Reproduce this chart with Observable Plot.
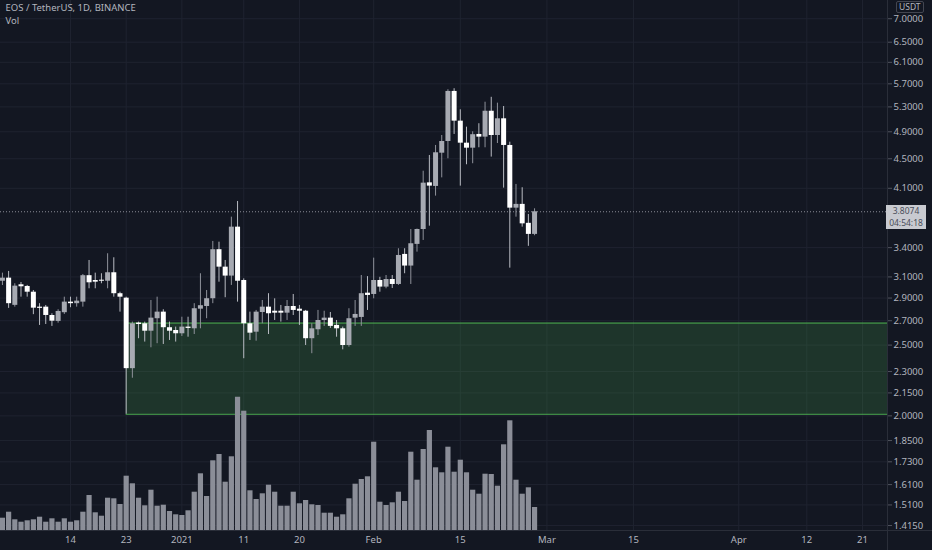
<!DOCTYPE html>
<html>
<head>
<meta charset="utf-8">
<script src="https://cdn.jsdelivr.net/npm/d3@7"></script>
<script src="https://cdn.jsdelivr.net/npm/@observablehq/plot@0.6"></script>
<style>
  body { margin: 0; background: #131722; }
  #chart { position: relative; width: 932px; height: 550px; overflow: hidden; font-family: "Noto Sans", sans-serif; }
  #chart svg { position: absolute; left: 0; top: 0; }
  .sep-v { position: absolute; left: 887px; top: 0; width: 1px; height: 550px; background: #2a2e39; }
  .sep-h { position: absolute; left: 0; top: 530px; width: 932px; height: 1px; background: #2a2e39; }
  .last { position: absolute; left: 886px; width: 40px; height: 24px; background: #c8cad0; color: #4a4e5a;
          font-size: 8.5px; box-sizing: border-box; text-align: center; }
  .last div { height: 12px; line-height: 12px; }
  .usdt { position: absolute; left: 896px; top: 1px; padding: 0 2px; border: 1px solid #434651; border-radius: 2px;
          background: #131722; color: #b2b5be; font-size: 8.5px; line-height: 10px; }
</style>
</head>
<body>
<div id="chart"></div>
<script>
// daily candles, 3 Dec 2020 .. 27 Feb 2021
const firstDay = new Date(Date.UTC(2020, 11, 3));
const lastDay = new Date(Date.UTC(2021, 1, 27));

const opens = [
  3.058, 3.088, 2.834, 3.024, 3.008, 2.954, 2.818, 2.818, 2.745, 2.694, 2.769, 2.863, 2.849, 2.863, 3.112,
  3.065, 3.068, 3.058, 3.141, 2.940, 2.899, 2.321, 2.680, 2.674, 2.612, 2.717, 2.774, 2.641, 2.618,
  2.591, 2.646, 2.632, 2.800, 2.824, 2.894, 3.378, 3.197, 3.108, 3.627, 3.065, 2.674, 2.604, 2.771, 2.818,
  2.782, 2.782, 2.765, 2.824, 2.800, 2.782, 2.551, 2.624, 2.702, 2.722, 2.660, 2.632, 2.497, 2.722, 2.728, 2.945,
  2.933, 3.065, 3.002, 3.075, 3.027, 3.328, 3.208, 3.435, 3.600, 4.171, 4.124, 4.580, 4.752, 5.565,
  5.067, 4.727, 4.653, 4.859, 4.818, 5.228, 4.843, 5.105, 4.693, 3.851, 3.897, 3.671, 3.545
];
const highs = [
  3.137, 3.154, 3.034, 3.046, 3.018, 2.970, 2.849, 2.833, 2.760, 2.795, 2.908, 2.908, 2.908, 3.124, 3.265,
  3.137, 3.131, 3.335, 3.293, 2.954, 2.908, 2.688, 2.688, 2.688, 2.878, 2.908, 2.795, 2.688, 2.646,
  2.730, 2.730, 2.849, 3.131, 2.970, 3.467, 3.459, 3.265, 3.743, 3.933, 3.081, 2.774, 2.789, 2.878, 2.940,
  2.893, 2.833, 2.878, 2.933, 2.833, 2.789, 2.674, 2.789, 2.782, 2.771, 2.702, 2.646, 2.804, 2.878, 3.114, 3.103,
  3.289, 3.096, 3.114, 3.114, 3.388, 3.388, 3.600, 3.605, 4.327, 4.547, 4.693, 4.843, 5.595, 5.613,
  5.252, 4.972, 4.900, 5.026, 5.379, 5.463, 5.363, 5.307, 4.742, 4.150, 4.107, 3.775, 3.843
];
const lows = [
  3.017, 2.807, 2.818, 2.908, 2.908, 2.752, 2.660, 2.668, 2.652, 2.679, 2.754, 2.813, 2.818, 2.818, 2.986,
  2.986, 3.034, 2.986, 2.908, 2.774, 2.010, 2.252, 2.551, 2.524, 2.479, 2.511, 2.505, 2.537, 2.524,
  2.569, 2.563, 2.585, 2.632, 2.717, 2.849, 3.049, 2.903, 3.018, 2.863, 2.395, 2.537, 2.531, 2.674, 2.585,
  2.702, 2.688, 2.702, 2.745, 2.660, 2.497, 2.433, 2.577, 2.652, 2.635, 2.563, 2.463, 2.484, 2.652, 2.652, 2.789,
  2.893, 2.954, 2.986, 2.989, 3.018, 3.131, 3.027, 3.352, 3.478, 3.638, 4.000, 4.237, 4.500, 4.859,
  4.128, 4.416, 4.430, 4.659, 4.659, 4.524, 4.722, 4.102, 3.187, 3.743, 3.627, 3.414, 3.530
];
const closes = [
  3.088, 2.849, 3.011, 3.005, 2.954, 2.809, 2.807, 2.745, 2.696, 2.780, 2.863, 2.849, 2.872, 3.112, 3.043,
  3.049, 3.058, 3.141, 2.940, 2.908, 2.321, 2.674, 2.668, 2.612, 2.722, 2.774, 2.641, 2.612, 2.591,
  2.646, 2.635, 2.804, 2.831, 2.894, 3.378, 3.197, 3.108, 3.627, 3.058, 2.674, 2.596, 2.774, 2.818, 2.760,
  2.765, 2.765, 2.824, 2.789, 2.782, 2.551, 2.632, 2.702, 2.722, 2.652, 2.632, 2.497, 2.717, 2.754, 2.940, 2.924,
  3.065, 3.002, 3.075, 3.027, 3.317, 3.208, 3.442, 3.600, 4.167, 4.128, 4.586, 4.752, 5.565, 5.067,
  4.727, 4.653, 4.855, 4.818, 5.228, 4.843, 5.105, 4.693, 3.851, 3.897, 3.665, 3.545, 3.8074
];
const volumes = [
  12.3, 18.3, 10.7, 8.3, 9.7, 10.7, 13.3, 8.3, 11.7, 8.3, 11.7, 8.3, 9.7, 18.3, 35,
  17.7, 14.3, 32.3, 31.7, 26, 54.3, 46.7, 32.3, 24.7, 40.3, 24.3, 25.3, 19, 15.7,
  15, 19.7, 38.3, 56.7, 34, 69.7, 76, 48.3, 73.7, 133.3, 119.3, 39.7, 31, 36.7, 45.3,
  38.3, 24.3, 24.3, 38.3, 26.7, 30, 25.7, 25, 17.3, 17.3, 13.3, 15.7, 31.7, 46.3, 51, 53.7,
  88.3, 28.3, 25, 27.7, 38.3, 29, 78.3, 50.3, 81, 100, 62.7, 57.7, 83.3, 58.3,
  70.3, 57.7, 40.3, 36.3, 56.3, 56, 44.3, 85.7, 109.7, 50.3, 36.3, 42.7, 23
];

// support zone drawn on the chart
const zoneStart = new Date(Date.UTC(2020, 11, 23));
const zoneLow = 2.01;
const zoneHigh = 2.68;
const lastPrice = 3.8074;
const countdown = "04:54:18";

const xTicks = ["2020-12-14", "2020-12-23", "2021-01-01", "2021-01-11", "2021-01-20", "2021-02-01",
                "2021-02-15", "2021-03-01", "2021-03-15", "2021-04-01", "2021-04-12", "2021-04-21"];
const xTickLabels = ["14", "23", "2021", "11", "20", "Feb", "15", "Mar", "15", "Apr", "12", "21"];
const yTicks = [7, 6.5, 6.1, 5.7, 5.3, 4.9, 4.5, 4.1, 3.4, 3.1, 2.9, 2.7, 2.5, 2.3, 2.15, 2.0, 1.85, 1.73, 1.61, 1.51, 1.415];

const days = d3.utcDay.range(firstDay, d3.utcDay.offset(lastDay, 1));
const candles = days.map((date, i) => ({
  date, open: opens[i], high: highs[i], low: lows[i], close: closes[i], volume: volumes[i]
}));
const tickDates = xTicks.map(s => new Date(s + "T00:00:00Z"));
const labelOf = new Map(tickDates.map((d, i) => [+d, xTickLabels[i]]));

const xDomain = [new Date(Date.UTC(2020, 11, 2, 16, 30)), new Date(Date.UTC(2021, 3, 25, 1))];
const up = d => d.close >= d.open;

const base = {
  width: 932, height: 550,
  marginLeft: 0, marginRight: 45, marginTop: 0, marginBottom: 20
};

const priceChart = Plot.plot({
  ...base,
  style: { background: "transparent", color: "#b2b5be", fontFamily: "Noto Sans", fontSize: "9.5px" },
  x: { type: "utc", domain: xDomain },
  y: { type: "log", domain: [1.393, 7.414] },
  marks: [
    Plot.gridY(yTicks, { stroke: "#1f2330", strokeOpacity: 1 }),
    Plot.gridX(tickDates, { stroke: "#1f2330", strokeOpacity: 1 }),
    Plot.rect([{ x1: zoneStart, x2: xDomain[1], y1: zoneLow, y2: zoneHigh }],
      { x1: "x1", x2: "x2", y1: "y1", y2: "y2", fill: "#4caf50", fillOpacity: 0.2 }),
    Plot.ruleY([zoneLow, zoneHigh], { x1: zoneStart, x2: xDomain[1], stroke: "#4caf50", strokeWidth: 1 }),
    Plot.ruleY([lastPrice], { stroke: "#8a8d96", strokeDasharray: "1,2" }),
    Plot.ruleX(candles, { x: "date", y1: "low", y2: "high", stroke: d => up(d) ? "#8f929b" : "#b9bcc3", strokeWidth: 1 }),
    Plot.ruleX(candles, { x: "date", y1: "open", y2: "close", stroke: d => up(d) ? "#a7aab2" : "#ffffff", strokeWidth: 5 }),
    Plot.axisY(yTicks, { anchor: "right", tickSize: 4, tickPadding: 2, tickFormat: d3.format(".4f"), stroke: "#50535e" }),
    Plot.axisX(tickDates, { tickSize: 0, tickPadding: 6, tickFormat: d => labelOf.get(+d) }),
    Plot.text(["EOS / TetherUS, 1D, BINANCE"], { frameAnchor: "top-left", dx: 5, dy: 4, fill: "#b2b5be", fontSize: 9.5, textAnchor: "start", lineAnchor: "top" }),
    Plot.text(["Vol"], { frameAnchor: "top-left", dx: 5, dy: 17, fill: "#b2b5be", fontSize: 9.5, textAnchor: "start", lineAnchor: "top" })
  ]
});

const volumeChart = Plot.plot({
  ...base,
  style: { background: "transparent" },
  x: { type: "utc", domain: xDomain, axis: null },
  y: { domain: [0, 530], axis: null },
  marks: [
    Plot.ruleX(candles, { x: "date", y1: 0, y2: "volume", stroke: "#8b8e98", strokeWidth: 5.2 })
  ]
});

const chart = document.getElementById("chart");
chart.appendChild(priceChart);
chart.appendChild(volumeChart);

const sepV = document.createElement("div"); sepV.className = "sep-v"; chart.appendChild(sepV);
const sepH = document.createElement("div"); sepH.className = "sep-h"; chart.appendChild(sepH);

const usdt = document.createElement("div");
usdt.className = "usdt"; usdt.textContent = "USDT";
chart.appendChild(usdt);

const yLast = priceChart.scale("y").apply(lastPrice);
const last = document.createElement("div");
last.className = "last";
last.style.top = (yLast - 6) + "px";
for (const line of [lastPrice.toFixed(4), countdown]) {
  const row = document.createElement("div");
  row.textContent = line;
  last.appendChild(row);
}
chart.appendChild(last);
</script>
</body>
</html>
